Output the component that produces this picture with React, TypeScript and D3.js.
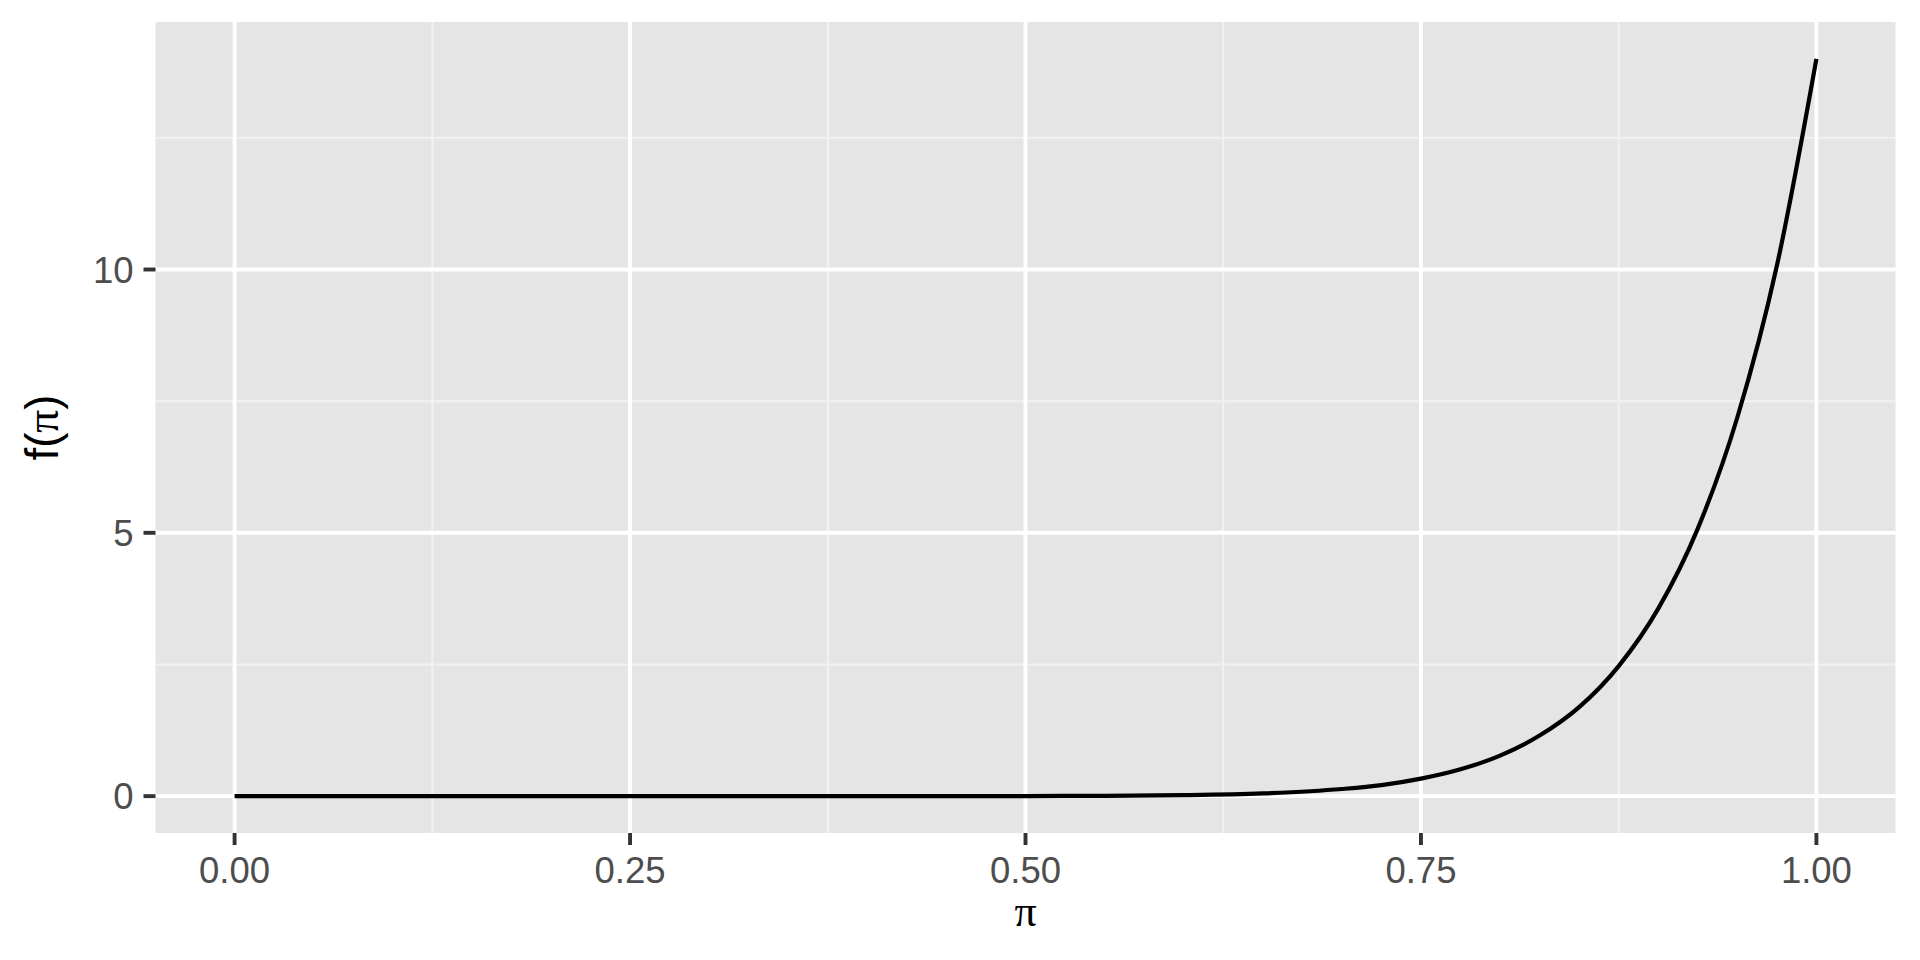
import { useEffect, useRef } from 'react';
import * as d3 from 'd3';

// values
const piValues = [0, 0.1, 0.2, 0.3, 0.4, 0.5, 0.55, 0.6, 0.65, 0.7, 0.725, 0.75, 0.775, 0.8, 0.825, 0.85, 0.875, 0.9, 0.925, 0.95, 0.975, 1];
const densityValues = [0, 0, 0, 0, 0, 0.002, 0.006, 0.018, 0.052, 0.136, 0.21, 0.333, 0.51, 0.77, 1.15, 1.69, 2.47, 3.56, 5.08, 7.19, 10.07, 14];

const xTicks = [0, 0.25, 0.5, 0.75, 1];
const xTickLabels = ['0.00', '0.25', '0.50', '0.75', '1.00'];
const xMinor = [0.125, 0.375, 0.625, 0.875];
const yTicks = [0, 5, 10];
const yTickLabels = ['0', '5', '10'];
const yMinor = [2.5, 7.5, 12.5];

const WIDTH = 1920;
const HEIGHT = 960;
const PANEL = { left: 155.5, right: 1895.5, top: 22, bottom: 833 };

export default function App() {
  const svgRef = useRef<SVGSVGElement>(null);

  useEffect(() => {
    document.body.style.margin = '0';
    const svg = svgRef.current;
    if (!svg) return;
    const root = d3.select(svg);
    root.selectAll('*').remove();

    const x = d3.scaleLinear().domain([-0.05, 1.05]).range([PANEL.left, PANEL.right]);
    const y = d3.scaleLinear().domain([-0.7, 14.7]).range([PANEL.bottom, PANEL.top]);

    root.append('rect').attr('width', WIDTH).attr('height', HEIGHT).attr('fill', '#ffffff');
    root
      .append('rect')
      .attr('x', PANEL.left)
      .attr('y', PANEL.top)
      .attr('width', PANEL.right - PANEL.left)
      .attr('height', PANEL.bottom - PANEL.top)
      .attr('fill', '#E5E5E5');

    // minor grid
    root.selectAll('.xminor').data(xMinor).enter().append('line')
      .attr('x1', (d) => x(d)).attr('x2', (d) => x(d))
      .attr('y1', PANEL.top).attr('y2', PANEL.bottom)
      .attr('stroke', '#F2F2F2').attr('stroke-width', 2);
    root.selectAll('.yminor').data(yMinor).enter().append('line')
      .attr('x1', PANEL.left).attr('x2', PANEL.right)
      .attr('y1', (d) => y(d)).attr('y2', (d) => y(d))
      .attr('stroke', '#F2F2F2').attr('stroke-width', 2);

    // major grid
    root.selectAll('.xmajor').data(xTicks).enter().append('line')
      .attr('x1', (d) => x(d)).attr('x2', (d) => x(d))
      .attr('y1', PANEL.top).attr('y2', PANEL.bottom)
      .attr('stroke', '#ffffff').attr('stroke-width', 3.9);
    root.selectAll('.ymajor').data(yTicks).enter().append('line')
      .attr('x1', PANEL.left).attr('x2', PANEL.right)
      .attr('y1', (d) => y(d)).attr('y2', (d) => y(d))
      .attr('stroke', '#ffffff').attr('stroke-width', 3.9);

    // curve
    const pts = piValues.map((p, i) => [p, densityValues[i]] as [number, number]);
    const line = d3.line<[number, number]>()
      .x((d) => x(d[0]))
      .y((d) => y(d[1]))
      .curve(d3.curveMonotoneX);
    root.append('path')
      .attr('d', line(pts))
      .attr('fill', 'none')
      .attr('stroke', '#000000')
      .attr('stroke-width', 4.2);

    // ticks
    root.selectAll('.xtick').data(xTicks).enter().append('line')
      .attr('x1', (d) => x(d)).attr('x2', (d) => x(d))
      .attr('y1', PANEL.bottom).attr('y2', PANEL.bottom + 12)
      .attr('stroke', '#333333').attr('stroke-width', 3.9);
    root.selectAll('.ytick').data(yTicks).enter().append('line')
      .attr('x1', PANEL.left - 12).attr('x2', PANEL.left)
      .attr('y1', (d) => y(d)).attr('y2', (d) => y(d))
      .attr('stroke', '#333333').attr('stroke-width', 3.9);

    const font = '"Liberation Sans", Arial, sans-serif';
    root.selectAll('.xlab').data(xTicks).enter().append('text')
      .attr('x', (d) => x(d)).attr('y', 883)
      .attr('text-anchor', 'middle')
      .attr('font-family', font).attr('font-size', 36.5)
      .attr('fill', '#4D4D4D')
      .text((_, i) => xTickLabels[i]);
    root.selectAll('.ylab').data(yTicks).enter().append('text')
      .attr('x', PANEL.left - 22).attr('y', (d) => y(d) + 13)
      .attr('text-anchor', 'end')
      .attr('font-family', font).attr('font-size', 36.5)
      .attr('fill', '#4D4D4D')
      .text((_, i) => yTickLabels[i]);

    // axis titles
    root.append('text')
      .attr('x', (PANEL.left + PANEL.right) / 2).attr('y', 926)
      .attr('text-anchor', 'middle')
      .attr('font-family', '"Liberation Serif", serif').attr('font-size', 44)
      .attr('fill', '#000000')
      .text('π');

    const yt = root.append('text')
      .attr('transform', `translate(58,${(PANEL.top + PANEL.bottom) / 2}) rotate(-90)`)
      .attr('text-anchor', 'middle')
      .attr('font-family', font).attr('font-size', 45.6)
      .attr('fill', '#000000');
    yt.append('tspan').text('f(');
    yt.append('tspan').attr('font-family', '"Liberation Serif", serif').text('π');
    yt.append('tspan').text(')');
  }, []);

  return <svg ref={svgRef} width={WIDTH} height={HEIGHT} style={{ display: 'block' }} />;
}
